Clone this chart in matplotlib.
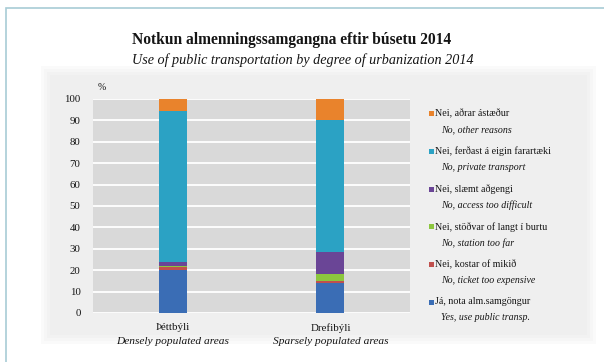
import numpy as np
import matplotlib
matplotlib.use("Agg")
import matplotlib.pyplot as plt
from matplotlib.patches import Rectangle
from matplotlib.transforms import blended_transform_factory

# survey shares, % of respondents, stacked bottom to top
areas = ["Þéttbýli", "Drefibýli"]
areas_en = ["Densely populated areas", "Sparsely populated areas"]
yes_public = [20.0, 14.0]
too_expensive = [1.5, 1.0]
too_far = [0.3, 3.0]
access_difficult = [2.2, 10.5]
private_transport = [70.5, 61.5]
other_reasons = [5.5, 10.0]

series = [yes_public, too_expensive, too_far, access_difficult,
          private_transport, other_reasons]
labels_is = ["Já, nota alm.samgöngur", "Nei, kostar of mikið",
             "Nei, stöðvar of langt í burtu", "Nei, slæmt aðgengi",
             "Nei, ferðast á eigin farartæki", "Nei, aðrar ástæður"]
labels_en = ["Yes, use public transp.", "No, ticket too expensive",
             "No, station too far", "No, access too difficult",
             "No, private transport", "No, other reasons"]
colors = ["#3a6db5", "#c0504d", "#8cc63e", "#6a4596", "#2ba2c4", "#e9832c"]

plt.rcParams["font.family"] = ["Liberation Serif", "DejaVu Serif"]
txt = "#151515"

fig = plt.figure(figsize=(6.04, 3.62), dpi=100)
fig.patch.set_facecolor("white")

W, H = 604.0, 362.0
def fx(px):
    return px / W
def fy(py):
    return 1 - py / H

# thin outer frame, only top and left edges fall inside the canvas
fig.add_artist(Rectangle((fx(6), fy(400)), fx(700), 392 / H, transform=fig.transFigure,
                         fill=False, edgecolor="#a8ccd6", lw=1.2, zorder=-5))
# soft grey panel behind the chart
for i, a in enumerate([0.25, 0.35, 0.5, 1.0]):
    d = (3 - i) * 3
    fig.add_artist(Rectangle((fx(50 - d), fy(335 + d)), fx(537 + 2 * d), (260 + 2 * d) / H,
                             transform=fig.transFigure, facecolor="#efefef",
                             edgecolor="none", alpha=a, zorder=-4))

ax = fig.add_axes([fx(93), fy(313), fx(410) - fx(93), (313 - 99) / H])
ax.set_facecolor("#d9d9d9")
x = np.arange(len(areas))
bottom = np.zeros(len(areas))
for vals, c in zip(series, colors):
    ax.bar(x, vals, 0.178, bottom=bottom, color=c, edgecolor="none", zorder=3)
    bottom += np.array(vals)

ax.set_xlim(-0.508, 1.505)
ax.set_ylim(0, 100)
ax.set_yticks(np.arange(0, 101, 10))
ax.yaxis.grid(True, color="white", lw=1.3, zorder=0)
ax.set_axisbelow(True)
for s in ax.spines.values():
    s.set_visible(False)
ax.tick_params(axis="y", length=0, pad=9, labelsize=7.8, labelcolor=txt)
ax.set_xticks([])

tr = blended_transform_factory(ax.transData, fig.transFigure)
for xi, a_is, a_en in zip(x, areas, areas_en):
    ax.text(xi, fy(328), a_is, transform=tr, ha="center", va="center",
            fontsize=7.8, color=txt)
    ax.text(xi, fy(341), a_en, transform=tr, ha="center", va="center",
            fontsize=8.2, style="italic", color=txt)

fig.text(fx(102), fy(88), "%", fontsize=7, color=txt, ha="center", va="center")

fig.text(fx(132), fy(40), "Notkun almenningssamgangna eftir búsetu 2014",
         fontsize=11.2, weight="bold", color=txt, va="center")
fig.text(fx(132), fy(60), "Use of public transportation by degree of urbanization 2014",
         fontsize=10.2, style="italic", color=txt, va="center")

# legend, top entry first
for k, i in enumerate(range(len(series) - 1, -1, -1)):
    y0 = 114 + k * 37.6
    fig.add_artist(Rectangle((fx(429), fy(y0 + 2.5)), fx(5), 5 / H,
                             transform=fig.transFigure, facecolor=colors[i],
                             edgecolor="none"))
    fig.text(fx(435), fy(y0), labels_is[i], fontsize=7.2, color=txt, va="center")
    fig.text(fx(441), fy(y0 + 16), labels_en[i], fontsize=7.1, style="italic",
             color=txt, va="center")

fig.savefig("out.png", dpi=100)
